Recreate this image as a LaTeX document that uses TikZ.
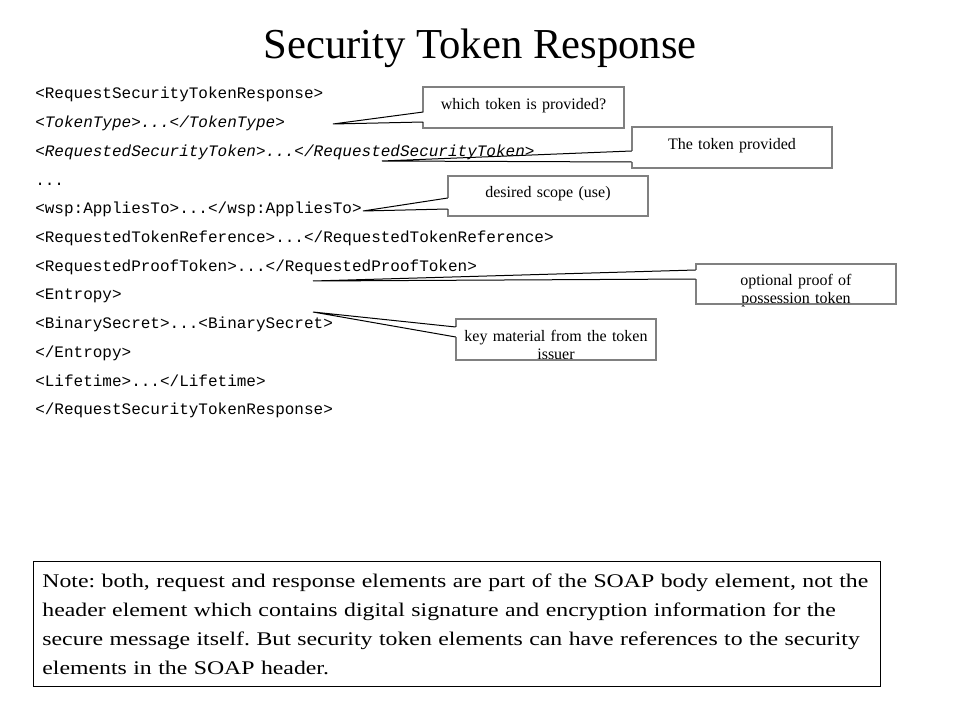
\documentclass[tikz,border=0pt]{standalone}
\usepackage{fontspec}
\setmainfont{Liberation Serif}
\setmonofont{Liberation Mono}
\newfontfamily\notefont[FakeStretch=1.23]{Liberation Serif}
\begin{document}
\begin{tikzpicture}[x=0.75pt,y=-0.75pt]
\tikzset{boxline/.style={draw=black!50,line width=1.5pt}}
\tikzset{tail/.style={draw=black,line width=0.75pt}}
\tikzstyle{code}=[anchor=base west,inner sep=0,font=\ttfamily\fontsize{12}{14}\selectfont]
\tikzstyle{callbox}=[rectangle,inner sep=0,text width=150pt,align=center,text height=16.5pt,text depth=13.5pt,font=\fontsize{12}{13.5}\selectfont]
\tikzstyle{notebox}=[draw,line width=0.6pt,anchor=north west,inner xsep=6.75pt,inner ysep=0,text width=621.75pt,align=left,text height=19.5pt,text depth=74.25pt,font=\notefont\frenchspacing\fontsize{14.5}{21.75}\selectfont]
\useasboundingbox (0,0) rectangle (960,720);
\node[anchor=base,font=\fontsize{32}{38}\selectfont] (title)at(480,59){Security Token Response};
% the response message
\node[code] (l1)at(35,99){<RequestSecurityTokenResponse>};
\node[code] (l2)at(35,127.7){\itshape <TokenType>...</TokenType>};
\node[code] (l3)at(35,156.4){\itshape <RequestedSecurityToken>...</RequestedSecurityToken>};
\node[code] (l4)at(35,185.1){...};
\node[code] (l5)at(35,213.8){<wsp:AppliesTo>...</wsp:AppliesTo>};
\node[code] (l6)at(35,242.5){<RequestedTokenReference>...</RequestedTokenReference>};
\node[code] (l7)at(35,271.2){<RequestedProofToken>...</RequestedProofToken>};
\node[code] (l8)at(35,299.9){<Entropy>};
\node[code] (l9)at(35,328.6){<BinarySecret>...<BinarySecret>};
\node[code] (l10)at(35,357.3){</Entropy>};
\node[code] (l11)at(35,386){<Lifetime>...</Lifetime>};
\node[code] (l12)at(35,414.7){</RequestSecurityTokenResponse>};
% callouts
\coordinate (t1)at(333,124);
\coordinate (t2)at(382,161);
\coordinate (t3)at(363,211);
\coordinate (t4)at(313,281);
\coordinate (t5)at(313,312);
\node[callbox] (c1)at(523.5,107.5){which token is provided?};
\node[callbox] (c2)at(732,147.5){The token provided};
\node[callbox] (c3)at(548,196){desired scope (use)};
\node[callbox] (c4)at(796,284){optional proof of\\possession token};
\node[callbox] (c5)at(556,339.5){key material from the token\\issuer};
\draw[boxline] ([shift={(0,4.5)}]c1.west) |- (c1.north east) |- (c1.south west) -- ([shift={(0,14.5)}]c1.west);
\draw[tail] ([shift={(0,4.5)}]c1.west) -- (t1) -- ([shift={(0,14.5)}]c1.west);
\draw[boxline] ([shift={(0,3.5)}]c2.west) |- (c2.north east) |- (c2.south west) -- ([shift={(0,14.5)}]c2.west);
\draw[tail] ([shift={(0,3.5)}]c2.west) -- (t2) -- ([shift={(0,14.5)}]c2.west);
\draw[boxline] ([shift={(0,2)}]c3.west) |- (c3.north east) |- (c3.south west) -- ([shift={(0,13)}]c3.west);
\draw[tail] ([shift={(0,2)}]c3.west) -- (t3) -- ([shift={(0,13)}]c3.west);
\draw[boxline] ([shift={(0,-14)}]c4.west) |- (c4.north east) |- (c4.south west) -- ([shift={(0,-5)}]c4.west);
\draw[tail] ([shift={(0,-14)}]c4.west) -- (t4) -- ([shift={(0,-5)}]c4.west);
\draw[boxline] ([shift={(0,-12.5)}]c5.west) |- (c5.north east) |- (c5.south west) -- ([shift={(0,-2.5)}]c5.west);
\draw[tail] ([shift={(0,-12.5)}]c5.west) -- (t5) -- ([shift={(0,-2.5)}]c5.west);
% note
\node[notebox] (note)at(33,561){Note: both, request and response elements are part of the SOAP body element, not the\\
header element which contains digital signature and encryption information for the\\
secure message itself. But security token elements can have references to the security\\
elements in the SOAP header.};
\end{tikzpicture}
\end{document}
